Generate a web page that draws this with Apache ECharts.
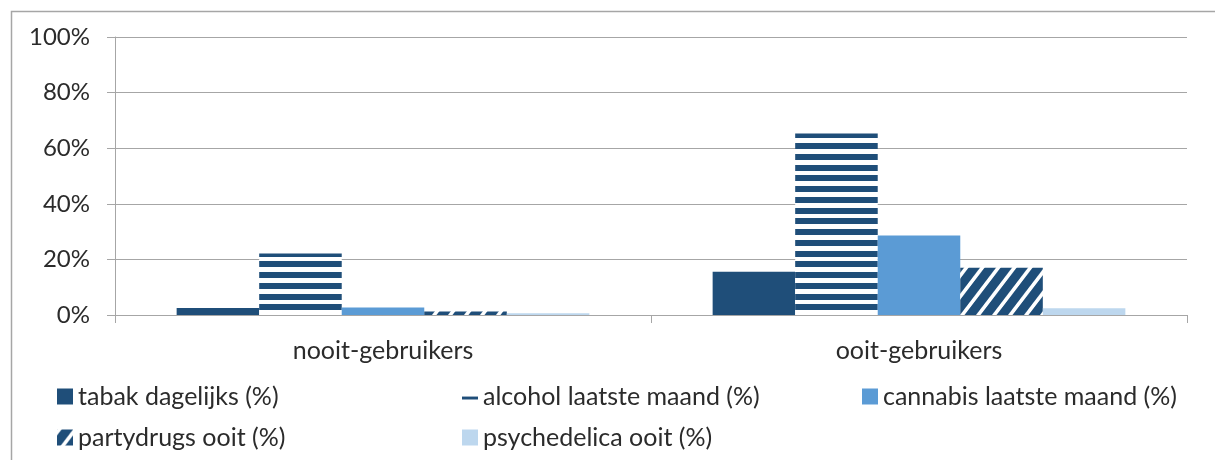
<!DOCTYPE html>
<html>
<head>
<meta charset="utf-8">
<script src="https://cdn.jsdelivr.net/npm/echarts@6/dist/echarts.min.js"></script>
<style>
  html, body { margin: 0; padding: 0; background: #fff; }
  #chart { width: 1215px; height: 460px; }
</style>
</head>
<body>
<div id="chart"></div>
<script>
  // categorieen en waarden (%)
  var categories = ['nooit-gebruikers', 'ooit-gebruikers'];
  var tabak = [2.5, 15.6];
  var alcohol = [22.1, 65.3];
  var cannabis = [2.7, 28.6];
  var partydrugs = [1.3, 17.0];
  var psychedelica = [0.6, 2.4];
  var seriesNames = ['tabak dagelijks (%)', 'alcohol laatste maand (%)', 'cannabis laatste maand (%)',
    'partydrugs ooit (%)', 'psychedelica ooit (%)'];

  var DARK = '#1F4E79';
  var MID = '#5B9BD5';
  var LIGHT = '#BDD7EE';

  // horizontale strepen (alcohol)
  function stripePattern() {
    var c = document.createElement('canvas');
    c.width = 4; c.height = 43;
    var ctx = c.getContext('2d');
    ctx.fillStyle = '#fff';
    ctx.fillRect(0, 0, 4, 43);
    ctx.fillStyle = DARK;
    for (var y = 0; y < 43; y++) {
      var v = ((y - 3 + 43) % 10.75);
      if (v < 6) ctx.fillRect(0, y, 4, 1);
    }
    return c;
  }

  // brede diagonale strepen (partydrugs)
  function diagPattern() {
    var w = 16, h = 21;
    var c = document.createElement('canvas');
    c.width = w; c.height = h;
    var ctx = c.getContext('2d');
    var img = ctx.createImageData(w, h);
    var dr = 0x1F, dg = 0x4E, db = 0x79;
    for (var y = 0; y < h; y++) {
      for (var x = 0; x < w; x++) {
        var cov = 0;
        for (var sy = 0; sy < 4; sy++) {
          for (var sx = 0; sx < 4; sx++) {
            var px = x + (sx + 0.5) / 4, py = y + (sy + 0.5) / 4;
            var v = ((px + py * w / h) % w + w) % w;
            if (v < 4.5) cov++;
          }
        }
        var t = cov / 16;
        var i = (y * w + x) * 4;
        img.data[i] = Math.round(dr + (255 - dr) * t);
        img.data[i + 1] = Math.round(dg + (255 - dg) * t);
        img.data[i + 2] = Math.round(db + (255 - db) * t);
        img.data[i + 3] = 255;
      }
    }
    ctx.putImageData(img, 0, 0);
    return c;
  }

  var stripes = { image: stripePattern(), repeat: 'repeat' };
  var diag = { image: diagPattern(), repeat: 'repeat' };

  var font = 'Lato, "Open Sans", sans-serif';
  var textColor = '#2b2b2b';

  function legendAt(name, left, top, extra) {
    var lg = {
      data: [name],
      left: left,
      top: top,
      orient: 'horizontal',
      padding: 0,
      itemWidth: 16,
      itemHeight: 16,
      icon: 'rect',
      selectedMode: false,
      textStyle: { fontFamily: font, fontSize: 25, color: textColor, lineHeight: 24 }
    };
    for (var k in extra) lg[k] = extra[k];
    return lg;
  }

  var myChart = echarts.init(document.getElementById('chart'));

  myChart.setOption({
    animation: false,
    backgroundColor: '#fff',
    graphic: [{
      type: 'rect',
      left: 9, top: 9,
      shape: { width: 1300, height: 500 },
      style: { fill: 'none', stroke: '#a6a6a6', lineWidth: 1.5 },
      silent: true
    }],
    legend: [
      legendAt(seriesNames[0], 57, 384),
      legendAt(seriesNames[1], 462, 384, { itemHeight: 6 }),
      legendAt(seriesNames[2], 862, 384),
      legendAt(seriesNames[3], 57, 425),
      legendAt(seriesNames[4], 462, 425)
    ],
    grid: { left: 115, right: 28, top: 37, bottom: 145, containLabel: false },
    xAxis: {
      type: 'category',
      data: categories,
      axisLine: { lineStyle: { color: '#a6a6a6', width: 1 } },
      axisTick: { show: true, length: 8, lineStyle: { color: '#a6a6a6' } },
      axisLabel: { fontFamily: font, fontSize: 25, color: textColor, margin: 23 }
    },
    yAxis: {
      type: 'value',
      min: 0,
      max: 100,
      interval: 20,
      axisLine: { show: true, lineStyle: { color: '#a6a6a6', width: 1 } },
      axisTick: { show: true, length: 8, lineStyle: { color: '#a6a6a6' } },
      splitLine: { show: true, lineStyle: { color: '#a6a6a6', width: 1 } },
      axisLabel: { formatter: '{value}%', fontFamily: font, fontSize: 24, color: textColor, margin: 25 }
    },
    series: [
      { name: seriesNames[0], type: 'bar', data: tabak, barGap: '0%', barCategoryGap: '23%',
        itemStyle: { color: DARK } },
      { name: seriesNames[1], type: 'bar', data: alcohol,
        itemStyle: { color: stripes } },
      { name: seriesNames[2], type: 'bar', data: cannabis,
        itemStyle: { color: MID } },
      { name: seriesNames[3], type: 'bar', data: partydrugs,
        itemStyle: { color: diag } },
      { name: seriesNames[4], type: 'bar', data: psychedelica,
        itemStyle: { color: LIGHT } }
    ]
  });
</script>
</body>
</html>
